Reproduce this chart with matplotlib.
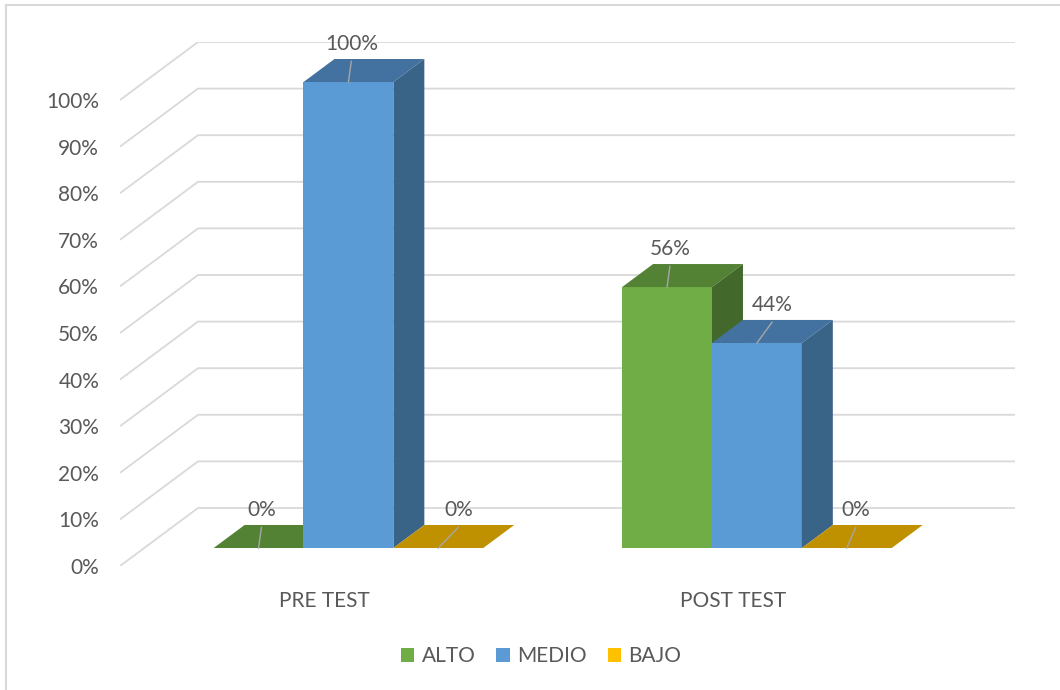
import matplotlib
matplotlib.use("Agg")
import matplotlib.pyplot as plt
from matplotlib.patches import Polygon, Patch
from matplotlib.lines import Line2D

# datos
categorias = ["PRE TEST", "POST TEST"]
series = ["ALTO", "MEDIO", "BAJO"]
alto = [0, 56]
medio = [100, 44]
bajo = [0, 0]
niveles = [0, 10, 20, 30, 40, 50, 60, 70, 80, 90, 100]

# colores: frente, tapa, lateral
col_frente = ["#70AD47", "#5B9BD5", "#FFC000"]
col_tapa = ["#548235", "#4472A0", "#BF9000"]
col_lado = ["#43682B", "#3A6388", "#997300"]
gris = "#D9D9D9"
texto = "#595959"

plt.rcParams['font.family'] = ['Lato', 'DejaVu Sans']

# profundidad de la "caja" 3D en unidades de datos
DX, DY = 0.191, 12.45
f0, f1 = 0.31, 0.707   # frente y fondo de las barras (fraccion de profundidad)
ancho = 0.22
desvio_guia = [[0.007, 0.007, 0.049], [0.007, 0.037, 0.022]]  # inclinacion lineas guia

fig = plt.figure(figsize=(10.6, 6.9), dpi=100)
ax = fig.add_axes([120 / 1060, 1 - 566 / 690, (1015 - 120) / 1060, (566 - 42) / 690])
ax.set_xlim(0, len(categorias) + DX)
ax.set_ylim(0, 100 + DY)
for s in ax.spines.values():
    s.set_visible(False)

# cuadricula: diagonal en el piso izquierdo + linea en la pared del fondo
for v in niveles:
    ax.plot([0, DX, len(categorias) + DX], [v, v + DY, v + DY], color=gris, lw=1.3, zorder=1,
            solid_capstyle='butt')

ax.set_yticks(niveles)
ax.set_yticklabels([f"{v}%" for v in niveles])
ax.set_xticks([i + 0.5 for i in range(len(categorias))])
ax.set_xticklabels(categorias)
ax.tick_params(axis='y', length=0, pad=15, labelsize=15, labelcolor=texto)
ax.tick_params(axis='x', length=0, pad=18, labelsize=15, labelcolor=texto)

valores = [alto, medio, bajo]
ddx, ddy = (f1 - f0) * DX, (f1 - f0) * DY
for i in range(len(categorias)):
    for j in range(len(series)):
        v = valores[j][i]
        x0 = i + 0.5 - 1.5 * ancho + j * ancho + f0 * DX
        x1 = x0 + ancho
        y0 = f0 * DY
        y1 = y0 + v
        z = 3 + j
        ax.add_patch(Polygon([(x0, y0), (x1, y0), (x1, y1), (x0, y1)], closed=True,
                             fc=col_frente[j], ec='none', zorder=z))
        ax.add_patch(Polygon([(x0, y1), (x1, y1), (x1 + ddx, y1 + ddy), (x0 + ddx, y1 + ddy)],
                             closed=True, fc=col_tapa[j], ec='none', zorder=z))
        if v > 0:
            ax.add_patch(Polygon([(x1, y0), (x1 + ddx, y0 + ddy), (x1 + ddx, y1 + ddy), (x1, y1)],
                                 closed=True, fc=col_lado[j], ec='none', zorder=z))
        # etiqueta con linea guia
        xc = (x0 + x1) / 2
        xe, ye = xc + desvio_guia[i][j], y1 + ddy * 0.9
        ax.plot([xc, xe], [y1, ye], color="#A6A6A6", lw=1.0, zorder=10)
        ax.annotate(f"{v}%", xy=(xe, ye), xytext=(0, 5), textcoords='offset points',
                    ha='center', va='bottom', fontsize=15, color=texto, zorder=11)

# leyenda
handles = [Patch(facecolor=c, edgecolor='none') for c in col_frente]
fig.legend(handles, series, loc='center', bbox_to_anchor=(541 / 1060, 1 - 656 / 690), ncol=3,
           frameon=False, fontsize=15, labelcolor=texto, handlelength=0.65, handleheight=0.65,
           handletextpad=0.35, columnspacing=1.0)

# borde del grafico (solo visible arriba e izquierda)
fig.add_artist(Line2D([6 / 1060, 6 / 1060], [0, 1 - 5 / 690], color=gris, lw=1.5))
fig.add_artist(Line2D([6 / 1060, 1], [1 - 5 / 690, 1 - 5 / 690], color=gris, lw=1.5))

fig.savefig("out.png", dpi=100)
